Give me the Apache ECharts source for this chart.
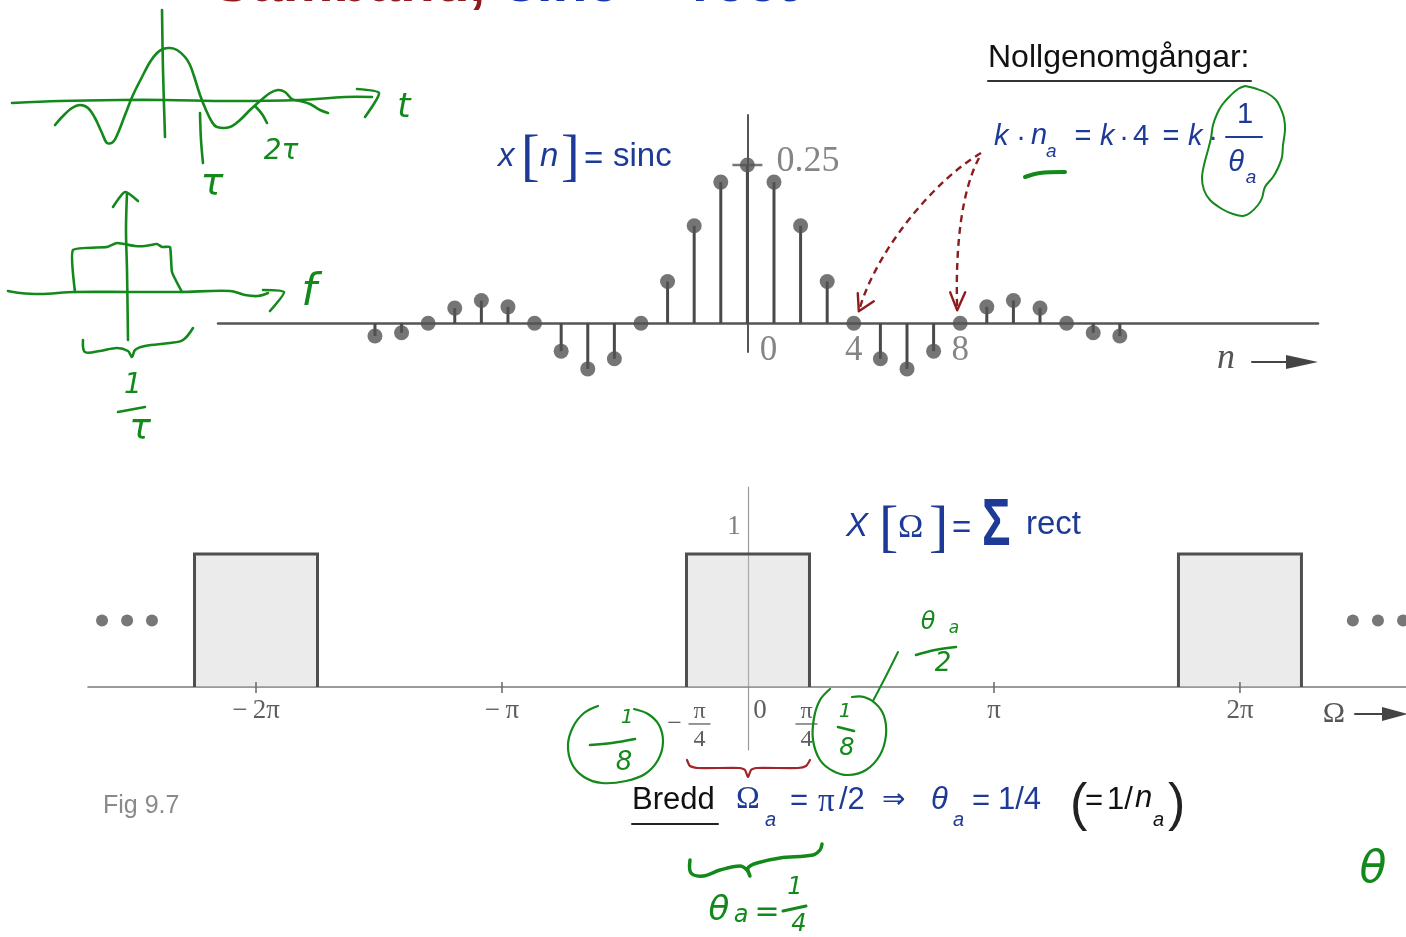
<!DOCTYPE html>
<html lang="sv">
<head>
<meta charset="utf-8">
<title>Samband, sinc ↔ rect</title>
<script src="https://cdn.jsdelivr.net/npm/echarts@6/dist/echarts.min.js"></script>
<style>
html,body{margin:0;padding:0;background:#fff;}
#chart{width:1406px;height:937px;}
</style>
</head>
<body>
<div id="chart"></div>
<script>
// ---- x[n]: sinc sequence, n = -14 … 14 ----
const nValues = [-14,-13,-12,-11,-10,-9,-8,-7,-6,-5,-4,-3,-2,-1,0,1,2,3,4,5,6,7,8,9,10,11,12,13,14];
const xnValues = [-0.020,-0.015,0,0.024,0.036,0.026,0,-0.044,-0.072,-0.056,0,0.066,0.154,0.223,0.25,
                  0.223,0.154,0.066,0,-0.056,-0.072,-0.044,0,0.026,0.036,0.024,0,-0.015,-0.020];
const peakTickValue = 0.25;
const peakTickLabel = '0.25';
const nTickValues = [0, 4, 8];
const nTickLabels = ['0', '4', '8'];
const zeroCrossings = [4, 8];

// ---- X(Ω): periodic rect, Ω in units of π ----
const rectCenters = [-2, 0, 2];
const rectHalfWidth = 0.25;
const rectHeight = 1;
const omegaTickMarks = [-2, -1, 1, 2];
const omegaLabelValues = [-2, -1, -0.25, 0, 0.25, 1, 2];
const omegaLabels = ['−\u20092π', '−\u2009π', '−π/4', '0', 'π/4', 'π', '2π'];
const ellipsisX = [-2.626, -2.524, -2.423, 2.459, 2.561, 2.663];
const ellipsisY = 0.5;

const BLUE = '#1d3a96';
const TITLE_BLUE = '#1536a8';
const DARK_RED = '#8e1c1e';
const GREEN = '#13891b';
const STEM = '#4a4a4a';
const LABEL = '#5e5e5e';
const SERIF = '"Liberation Serif", "DejaVu Serif", serif';
const SANS = '"Liberation Sans", Arial, sans-serif';
const HAND = '"DejaVu Sans", sans-serif';

const chart = echarts.init(document.getElementById('chart'), null, {renderer: 'canvas'});

const hiddenAxisBits = {axisTick: {show: false}, axisLabel: {show: false}, splitLine: {show: false}};

const option = {
  backgroundColor: '#ffffff',
  animation: false,
  grid: [
    {left: 218, top: 115, width: 1100, height: 237, outerBoundsMode: 'none'},
    {left: 88, top: 487, width: 1318, height: 263, outerBoundsMode: 'none'}
  ],
  xAxis: [
    Object.assign({gridIndex: 0, type: 'value', min: -19.9, max: 21.45,
      axisLine: {show: true, onZero: true, lineStyle: {color: '#555', width: 2.5}}}, hiddenAxisBits),
    Object.assign({gridIndex: 1, type: 'value', min: -2.683, max: 2.675,
      axisLine: {show: true, onZero: true, lineStyle: {color: '#7a7a7a', width: 1.6}}}, hiddenAxisBits)
  ],
  yAxis: [
    Object.assign({gridIndex: 0, type: 'value', min: -0.0453, max: 0.329,
      axisLine: {show: true, onZero: true, lineStyle: {color: '#555', width: 2}}}, hiddenAxisBits),
    Object.assign({gridIndex: 1, type: 'value', min: -0.474, max: 1.504,
      axisLine: {show: true, onZero: true, lineStyle: {color: '#9a9a9a', width: 1.2}}}, hiddenAxisBits)
  ],
  series: [
    // stems
    {
      type: 'custom', xAxisIndex: 0, yAxisIndex: 0, z: 3, clip: false,
      data: nValues.map((n, i) => [n, xnValues[i]]),
      renderItem: (params, api) => {
        const a = api.coord([api.value(0), 0]);
        const b = api.coord([api.value(0), api.value(1)]);
        return {type: 'line', shape: {x1: a[0], y1: a[1], x2: b[0], y2: b[1]},
                style: {stroke: STEM, lineWidth: 3}};
      }
    },
    // stem heads
    {
      type: 'scatter', xAxisIndex: 0, yAxisIndex: 0, z: 4, clip: false,
      symbol: 'circle', symbolSize: 15,
      itemStyle: {color: '#535353'},
      data: nValues.map((n, i) => [n, xnValues[i]])
    },
    // 0.25 tick on the vertical axis
    {
      type: 'scatter', xAxisIndex: 0, yAxisIndex: 0, z: 4, clip: false,
      symbol: 'rect', symbolSize: [30, 2.5],
      itemStyle: {color: '#555'},
      data: [[0, peakTickValue]],
      label: {show: true, position: 'right', distance: 14, offset: [0, -3],
              formatter: () => peakTickLabel,
              fontFamily: SERIF, fontSize: 36, color: '#666'}
    },
    // n tick labels
    {
      type: 'scatter', xAxisIndex: 0, yAxisIndex: 0, z: 4, clip: false,
      symbolSize: 1, itemStyle: {color: 'rgba(0,0,0,0)'},
      data: nTickValues.map((n, i) => ({
        value: [n, 0],
        label: {show: true, position: 'inside', formatter: nTickLabels[i],
                offset: [n === 0 ? 21 : 0, 27],
                fontFamily: SERIF, fontSize: 35, color: '#666'}
      }))
    },
    // rect spectrum
    {
      type: 'custom', xAxisIndex: 1, yAxisIndex: 1, z: 3, clip: false,
      data: rectCenters.map(c => [c, rectHeight]),
      renderItem: (params, api) => {
        const c = api.value(0), h = api.value(1);
        const p0 = api.coord([c - rectHalfWidth, 0]);
        const p1 = api.coord([c + rectHalfWidth, h]);
        return {
          type: 'group',
          children: [
            {type: 'rect', shape: {x: p0[0], y: p1[1], width: p1[0] - p0[0], height: p0[1] - p1[1]},
             style: {fill: 'rgba(200,200,200,0.36)'}},
            {type: 'polyline', shape: {points: [[p0[0], p0[1]], [p0[0], p1[1]], [p1[0], p1[1]], [p1[0], p0[1]]]},
             style: {stroke: '#4f4f4f', lineWidth: 3, fill: null, lineJoin: 'miter'}}
          ]
        };
      }
    },
    // Ω tick marks
    {
      type: 'custom', xAxisIndex: 1, yAxisIndex: 1, z: 4, clip: false,
      data: omegaTickMarks.map(v => [v, 0]),
      renderItem: (params, api) => {
        const p = api.coord([api.value(0), 0]);
        return {type: 'line', shape: {x1: p[0], y1: p[1] - 5, x2: p[0], y2: p[1] + 6},
                style: {stroke: '#666', lineWidth: 1.5}};
      }
    },
    // Ω tick labels
    {
      type: 'custom', xAxisIndex: 1, yAxisIndex: 1, z: 4, clip: false,
      data: omegaLabelValues.map(v => [v, 0]),
      renderItem: (params, api) => {
        const v = api.value(0);
        const p = api.coord([v, 0]);
        const s = omegaLabels[params.dataIndex];
        const base = {fill: LABEL, fontFamily: SERIF, align: 'center', verticalAlign: 'middle'};
        if (s.indexOf('/') >= 0) {
          const neg = s.charAt(0) === '−';
          const body = neg ? s.slice(1) : s;
          const parts = body.split('/');
          const cx = p[0] + (neg ? 13 : -3);
          const kids = [
            {type: 'text', x: cx, y: p[1] + 25, style: Object.assign({text: parts[0], fontSize: 24}, base)},
            {type: 'line', shape: {x1: cx - 11, y1: p[1] + 37, x2: cx + 11, y2: p[1] + 37},
             style: {stroke: LABEL, lineWidth: 1.3}},
            {type: 'text', x: cx, y: p[1] + 53, style: Object.assign({text: parts[1], fontSize: 24}, base)}
          ];
          if (neg) kids.push({type: 'text', x: cx - 25, y: p[1] + 37,
                              style: Object.assign({text: '−', fontSize: 26}, base)});
          return {type: 'group', children: kids};
        }
        return {type: 'text', x: p[0] + (v === 0 ? 12 : 0), y: p[1] + 24,
                style: Object.assign({text: s, fontSize: 27}, base)};
      }
    },
    // periodic continuation dots
    {
      type: 'scatter', xAxisIndex: 1, yAxisIndex: 1, z: 4, clip: false,
      symbolSize: 12, itemStyle: {color: '#555'},
      data: ellipsisX.map(x => [x, ellipsisY])
    },
    // amplitude label
    {
      type: 'scatter', xAxisIndex: 1, yAxisIndex: 1, z: 4, clip: false,
      symbolSize: 1, itemStyle: {color: 'rgba(0,0,0,0)'},
      data: [[0, rectHeight]],
      label: {show: true, position: 'inside', offset: [-14, -27], formatter: '1',
              fontFamily: SERIF, fontSize: 27, color: LABEL}
    }
  ]
};
chart.setOption(option);

// ---- text, arrows and pen annotations ----
function txt(s, x, y, o) {
  o = o || {};
  const el = {type: 'text', x: x, y: y, z: o.z || 50,
    style: {text: s, fill: o.color || BLUE, fontSize: o.size || 30,
            fontFamily: o.family || SANS, fontStyle: o.italic ? 'italic' : 'normal',
            fontWeight: o.bold ? 'bold' : 'normal', align: o.align || 'left', verticalAlign: 'middle'}};
  if (o.scaleX) { el.scaleX = o.scaleX; }
  return el;
}
function pen(points, o) {
  o = o || {};
  return {type: 'polyline', z: o.z || 60,
    shape: {points: points, smooth: o.smooth === undefined ? 0.35 : o.smooth},
    style: {stroke: o.color || GREEN, lineWidth: o.width || 2.6, fill: null,
            lineDash: o.dash || null, lineCap: 'round', lineJoin: 'round'}};
}
function hand(s, x, y, size) {
  return txt(s, x, y, {color: GREEN, size: size, family: HAND, italic: true, align: 'center', z: 60});
}

const g = [];

// heading (runs off the top edge)
g.push(txt('Samband,', 213, -15, {size: 57, bold: true, color: DARK_RED}));
g.push(txt('sinc', 505, -15, {size: 57, bold: true, color: TITLE_BLUE}));
g.push(txt('↔', 656, -15, {size: 50, color: '#222', align: 'center', family: HAND}));
g.push(txt('rect', 692, -15, {size: 57, bold: true, color: TITLE_BLUE}));

// x[n] = sinc
g.push(txt('x', 498, 157, {size: 33, italic: true}));
g.push(txt('[', 521, 159, {size: 56, family: SERIF}));
g.push(txt('n', 540, 157, {size: 33, italic: true}));
g.push(txt(']', 561, 159, {size: 56, family: SERIF}));
g.push(txt('=', 584, 160, {size: 33}));
g.push(txt('sinc', 613, 157, {size: 33}));

// zero crossings
g.push(txt('Nollgenomgångar:', 988, 58, {size: 32, color: '#111'}));
g.push(pen([[988, 81], [1251, 81]], {color: '#333', width: 2, smooth: 0, z: 50}));
g.push(txt('k', 994, 137, {size: 29, italic: true}));
g.push(txt('·', 1021, 138, {size: 29, align: 'center'}));
g.push(txt('n', 1031, 136, {size: 29, italic: true}));
g.push(txt('a', 1046, 152, {size: 19, italic: true}));
g.push(txt('=', 1083, 137, {size: 29, align: 'center'}));
g.push(txt('k', 1100, 137, {size: 29, italic: true}));
g.push(txt('·', 1124, 138, {size: 29, align: 'center'}));
g.push(txt('4', 1133, 137, {size: 29}));
g.push(txt('=', 1171, 137, {size: 29, align: 'center'}));
g.push(txt('k', 1188, 137, {size: 29, italic: true}));
g.push(txt('·', 1213, 138, {size: 29, align: 'center'}));
g.push(txt('1', 1245, 115, {size: 29, align: 'center'}));
g.push(pen([[1226, 137], [1262, 137]], {color: BLUE, width: 2, smooth: 0, z: 50}));
g.push(txt('θ', 1236, 163, {size: 29, italic: true, align: 'center'}));
g.push(txt('a', 1251, 178, {size: 19, italic: true, align: 'center'}));

// n axis arrow
g.push(txt('n', 1226, 359, {size: 36, italic: true, family: SERIF, color: '#555', align: 'center'}));
g.push(pen([[1252, 362], [1290, 362]], {color: '#444', width: 2, smooth: 0, z: 50}));
g.push({type: 'polygon', z: 50, shape: {points: [[1286, 355], [1318, 362], [1286, 369]]}, style: {fill: '#444'}});

// X(Ω) = Σ rect
g.push(txt('X', 846, 527, {size: 33, italic: true}));
g.push(txt('[', 879, 530, {size: 58, family: SERIF}));
g.push(txt('Ω', 898, 528, {size: 34, family: SERIF}));
g.push(txt(']', 929, 530, {size: 58, family: SERIF}));
g.push(txt('=', 952, 529, {size: 33}));
g.push(txt('Σ', 982, 527, {size: 66, bold: true, scaleX: 0.72}));
g.push(txt('rect', 1026, 525, {size: 33}));

// Ω axis arrow
g.push(txt('Ω', 1334, 714, {size: 30, family: SERIF, color: '#555', align: 'center'}));
g.push(pen([[1355, 714], [1386, 714]], {color: '#444', width: 2, smooth: 0, z: 50}));
g.push({type: 'polygon', z: 50, shape: {points: [[1382, 707], [1408, 714], [1382, 721]]}, style: {fill: '#444'}});

// width of the main lobe
g.push(pen([[687, 760], [690, 766], [698, 768], [740, 768], [745, 770], [748, 777], [751, 770], [756, 768], [798, 768], [806, 766], [810, 760]],
           {color: '#a0262a', width: 2.2, smooth: 0.2, z: 50}));
g.push(txt('Bredd', 632, 800, {size: 31, color: '#111'}));
g.push(pen([[632, 824], [718, 824]], {color: '#222', width: 2, smooth: 0, z: 50}));
g.push(txt('Ω', 736, 800, {size: 32, family: SERIF}));
g.push(txt('a', 765, 820, {size: 20, italic: true}));
g.push(txt('=', 790, 801, {size: 31}));
g.push(txt('π', 818, 802, {size: 33, family: SERIF}));
g.push(txt('/2', 839, 800, {size: 31}));
g.push(txt('⇒', 882, 801, {size: 28, family: HAND}));
g.push(txt('θ', 931, 800, {size: 31, italic: true}));
g.push(txt('a', 953, 820, {size: 20, italic: true}));
g.push(txt('=', 972, 801, {size: 31}));
g.push(txt('1/4', 998, 800, {size: 31}));
g.push(txt('(', 1070, 806, {size: 52, color: '#222'}));
g.push(txt('=', 1085, 801, {size: 31, color: '#111'}));
g.push(txt('1/', 1107, 800, {size: 31, color: '#111'}));
g.push(txt('n', 1135, 798, {size: 31, italic: true, color: '#111'}));
g.push(txt('a', 1153, 820, {size: 20, italic: true, color: '#111'}));
g.push(txt(')', 1168, 806, {size: 52, color: '#222'}));

g.push(txt('Fig 9.7', 103, 806, {size: 25, color: '#8a8a8a'}));

// dashed arrows to the zero crossings
const tail = [981, 153];
const tips = zeroCrossings.map(n => chart.convertToPixel({gridIndex: 0}, [n, 0]));
const a1 = [tips[0][0] + 5, tips[0][1] - 12];
const a2 = [tips[1][0] - 3, tips[1][1] - 13];
g.push({type: 'bezierCurve', z: 55,
  shape: {x1: tail[0], y1: tail[1], cpx1: 935, cpy1: 180, cpx2: 876, cpy2: 250, x2: a1[0], y2: a1[1]},
  style: {stroke: DARK_RED, lineWidth: 2.4, lineDash: [7, 5], fill: null}});
g.push({type: 'bezierCurve', z: 55,
  shape: {x1: tail[0] - 2, y1: tail[1] + 5, cpx1: 962, cpy1: 190, cpx2: 955, cpy2: 245, x2: a2[0], y2: a2[1]},
  style: {stroke: DARK_RED, lineWidth: 2.4, lineDash: [7, 5], fill: null}});
g.push(pen([[a1[0] - 1, a1[1] - 18], [a1[0], a1[1]], [a1[0] + 15, a1[1] - 10]], {color: DARK_RED, width: 2.4, smooth: 0, z: 55}));
g.push(pen([[a2[0] - 7, a2[1] - 18], [a2[0], a2[1]], [a2[0] + 8, a2[1] - 18]], {color: DARK_RED, width: 2.4, smooth: 0, z: 55}));

// ---- pen notes ----
// sinc sketch in t
g.push(pen([[12, 103], [60, 101], [120, 100], [165, 100], [230, 101], [300, 100], [345, 97], [372, 97]]));
g.push(pen([[357, 89], [379, 93], [365, 117]], {smooth: 0.2}));
g.push(hand('t', 404, 108, 34));
g.push(pen([[162, 10], [163, 70], [165, 137]]));
g.push(pen([[55, 125], [62, 117], [72, 108], [80, 105], [88, 108], [95, 118], [102, 133], [107, 143], [113, 142], [118, 133],
            [125, 115], [133, 95], [142, 77], [150, 62], [157, 53], [163, 49], [170, 48], [177, 50], [185, 57], [190, 65],
            [194, 76], [200, 95], [206, 110], [212, 122], [217, 127], [230, 127], [240, 120], [250, 110], [260, 101],
            [270, 93], [278, 90], [285, 92], [292, 99], [300, 101], [310, 104], [320, 110], [328, 113]]));
g.push(pen([[200, 113], [201, 140], [203, 163]]));
g.push(pen([[255, 106], [262, 114], [267, 123]]));
g.push(hand('2τ', 281, 152, 28));
g.push(hand('τ', 212, 184, 38));

// rect sketch in f
g.push(pen([[8, 291], [20, 293], [40, 294], [75, 292], [130, 292], [180, 292], [230, 291], [245, 295], [258, 296], [268, 293]]));
g.push(pen([[263, 290], [284, 292], [270, 311]], {smooth: 0.2}));
g.push(hand('f', 309, 294, 44));
g.push(pen([[128, 340], [127, 270], [126, 230], [127, 193]]));
g.push(pen([[113, 207], [125, 192], [138, 201]], {smooth: 0.2}));
g.push(pen([[75, 292], [73, 250], [107, 247], [117, 243], [135, 246], [145, 246], [157, 244], [162, 247], [170, 247], [172, 272], [182, 292]], {smooth: 0.15}));
g.push(pen([[83, 340], [85, 352], [100, 351], [117, 348], [128, 351], [132, 357], [135, 350], [145, 346], [170, 343], [183, 340], [193, 328]]));
g.push(hand('1', 133, 386, 28));
g.push(pen([[118, 412], [145, 407]], {smooth: 0}));
g.push(hand('τ', 140, 430, 36));

// marks on the formula
g.push(pen([[1025, 177], [1040, 173], [1065, 172]], {width: 4}));
g.push(pen([[1245, 86], [1257, 89], [1267, 93], [1276, 100], [1280, 107], [1284, 118], [1285, 130], [1283, 145], [1282, 157],
            [1278, 168], [1273, 177], [1265, 187], [1262, 198], [1258, 205], [1250, 213], [1243, 216], [1233, 214],
            [1222, 209], [1210, 200], [1204, 190], [1202, 178], [1204, 165], [1208, 150], [1211, 138], [1213, 125],
            [1217, 114], [1222, 105], [1230, 96], [1238, 89], [1245, 86]], {width: 2}));

// notes on the spectrum
g.push(pen([[598, 706], [584, 713], [573, 727], [568, 745], [572, 764], [584, 777], [602, 783], [626, 781], [645, 774], [658, 760],
            [663, 742], [659, 725], [648, 714], [634, 709]], {width: 2.2}));
g.push(hand('1', 627, 718, 20));
g.push(pen([[590, 745], [612, 743], [635, 739]]));
g.push(hand('8', 624, 763, 26));

g.push(pen([[830, 689], [820, 700], [814, 718], [813, 740], [820, 760], [833, 771], [848, 775], [866, 770], [880, 755], [886, 735],
            [884, 716], [876, 704], [864, 697], [852, 697]], {width: 2.2}));
g.push(pen([[873, 701], [886, 676], [898, 652]], {width: 2}));
g.push(hand('1', 845, 712, 20));
g.push(pen([[838, 727], [854, 731]]));
g.push(hand('8', 847, 749, 24));

g.push(hand('θ', 928, 623, 24));
g.push(hand('a', 954, 629, 17));
g.push(pen([[916, 655], [935, 650], [956, 647]]));
g.push(hand('2', 943, 664, 26));

g.push(pen([[690, 860], [691, 873], [703, 876], [720, 870], [740, 866], [747, 870], [750, 876], [748, 868], [757, 863],
            [780, 858], [813, 855], [820, 850], [822, 844]], {width: 3.5}));
g.push(hand('θ', 719, 911, 34));
g.push(hand('a', 741, 916, 24));
g.push(hand('=', 767, 913, 30));
g.push(hand('1', 795, 888, 24));
g.push(pen([[783, 911], [806, 906]], {width: 3}));
g.push(hand('4', 799, 925, 24));

g.push(hand('θ', 1373, 871, 44));

chart.setOption({graphic: g});
</script>
</body>
</html>
